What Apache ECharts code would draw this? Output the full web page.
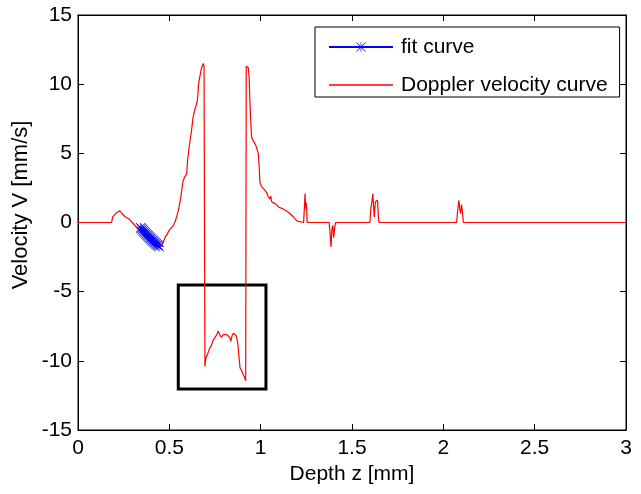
<!DOCTYPE html>
<html>
<head>
<meta charset="utf-8">
<script src="https://cdn.jsdelivr.net/npm/echarts@6/dist/echarts.min.js"></script>
<style>
html,body{margin:0;padding:0;background:#fff;}
#chart{width:641px;height:494px;}
</style>
</head>
<body>
<div id="chart"></div>
<script>
// ---- data ----
var xTicks = [0, 0.5, 1, 1.5, 2, 2.5, 3];
var yTicks = [-15, -10, -5, 0, 5, 10, 15];

var dopplerZ = [0,0.184,0.19,0.2,0.21,0.22,0.23,0.24,0.25,0.26,0.27,0.28,0.29,0.3,0.31,0.32,0.33,0.34,0.35,0.36,0.37,0.38,0.39,0.40,0.41,0.42,0.43,0.44,0.45,0.46,0.47,0.48,0.49,0.50,0.51,0.52,0.53,0.54,0.55,0.56,0.57,0.575,0.585,0.595,0.60,0.61,0.62,0.63,0.64,0.65,0.655,0.66,0.665,0.67,0.675,0.68,0.686,0.69,
0.695,0.70,0.71,0.72,0.73,0.74,0.75,0.76,0.768,0.775,0.786,0.795,0.805,0.815,0.823,0.83,0.836,0.843,0.85,0.858,0.865,0.872,0.877,0.882,0.887,0.895,0.905,0.912,0.918,
0.921,0.932,0.937,0.94,0.945,0.95,0.96,0.969,0.978,0.987,0.992,0.996,1.005,1.015,1.025,1.035,1.04,1.045,1.05,1.055,1.06,1.07,1.075,1.08,1.087,1.095,1.1,1.11,1.12,1.13,1.14,1.15,1.16,1.17,1.18,1.19,1.2,1.205,
1.235,1.24,1.243,1.247,1.25,1.255,1.375,1.38,1.385,1.39,1.395,1.40,1.405,1.41,
1.598,1.603,1.61,1.614,1.618,1.622,1.628,1.64,1.645,1.65,
2.073,2.078,2.085,2.09,2.095,2.1,2.105,2.11,3];
var dopplerV = [0,0,0.4,0.5,0.7,0.6,0.85,0.65,0.6,0.4,0.45,0.25,0.1,-0.05,-0.2,-0.3,-0.45,-0.6,-0.7,-0.9,-1.0,-1.1,-1.2,-1.35,-1.4,-1.55,-1.6,-1.75,-1.85,-1.6,-1.3,-1.0,-0.8,-0.55,-0.45,-0.25,0.0,0.4,0.9,1.6,2.5,3.0,3.3,3.5,4.5,5.6,6.5,7.6,8.2,8.6,9.0,10.0,10.4,10.5,11.1,11.3,11.5,11.3,
-10.4,-9.8,-9.5,-9.1,-8.9,-8.5,-8.3,-8.1,-7.85,-8.1,-8.3,-8.1,-8.0,-8.1,-8.05,-8.3,-8.6,-8.2,-8.0,-8.1,-8.15,-8.5,-9.0,-9.8,-10.5,-10.7,-11.0,-11.2,-11.45,
11.3,11.2,10.5,9.1,7.5,6.2,5.9,5.7,5.4,5.0,4.0,2.9,2.6,2.45,2.3,2.1,1.9,2.0,1.7,1.9,1.5,1.6,1.4,1.5,1.3,1.25,1.1,1.2,1.0,1.05,0.85,0.8,0.65,0.55,0.4,0.25,0.1,0,
0,1.2,2.1,1.0,1.4,0,0,-0.8,-1.76,-0.5,-0.2,-1.1,-0.4,0,
0,1.0,1.6,2.1,1.2,0.4,1.5,1.6,0.2,0,
0,0.8,1.6,1.0,0.65,1.3,1.2,0,0];

var fitZ = [0.343,0.348,0.353,0.358,0.363,0.368,0.373,0.378,0.383,0.388,0.393,0.398,0.403,0.408,0.413,0.418,0.423,0.428,0.433,0.438,0.444];
var fitV = [-0.38,-0.46,-0.53,-0.61,-0.68,-0.76,-0.83,-0.90,-0.96,-1.03,-1.10,-1.16,-1.23,-1.30,-1.36,-1.42,-1.49,-1.55,-1.61,-1.67,-1.73];

// highlighted rectangle (data coordinates)
var boxZ = [0.549, 1.029];
var boxV = [-4.52, -12.04];

var seriesNames = ['fit curve', 'Doppler velocity curve'];
var xName = 'Depth z [mm]';
var yName = 'Velocity V [mm/s]';

// ---- build ----
function zip(a, b) { var r = []; for (var i = 0; i < a.length; i++) r.push([a[i], b[i]]); return r; }
var FONT = 'Liberation Sans, Arial, sans-serif';
var star = 'path://M9.3,0h1.4v20h-1.4z M0,9.3h20v1.4h-20z M1,0l19,19l-1,1l-19,-19z M19,0l1,1l-19,19l-1,-1z';
var lineIcon = 'path://M0,0h0.01v0.01h-0.01z M0,5.3h64v1.4h-64z M63.99,11.99h0.01v0.01h-0.01z';

var chart = echarts.init(document.getElementById('chart'));
var axisCommon = {
  min: 0, max: 3, interval: 0.5,
  axisLine: { show: true, onZero: false, lineStyle: { color: '#000', width: 1 } },
  axisTick: { show: true, inside: true, length: 6, lineStyle: { color: '#000' } },
  splitLine: { show: false }
};
var yCommon = {
  min: yTicks[0], max: yTicks[yTicks.length - 1], interval: 5,
  axisLine: { show: true, onZero: false, lineStyle: { color: '#000', width: 1 } },
  axisTick: { show: true, inside: true, length: 6, lineStyle: { color: '#000' } },
  splitLine: { show: false }
};
chart.setOption({
  backgroundColor: '#fff',
  animation: false,
  grid: { left: 78, right: 15, top: 15, bottom: 64, show: true, borderColor: '#000', borderWidth: 1, backgroundColor: '#fff' },
  legend: {
    data: [{ name: seriesNames[0] }, { name: seriesNames[1], icon: lineIcon }],
    left: 315, top: 27,
    orient: 'vertical',
    borderColor: '#000', borderWidth: 1,
    padding: [9, 12, 1, 13],
    itemWidth: 64, itemHeight: 12, itemGap: 16,
    textStyle: { fontFamily: FONT, fontSize: 21, color: '#000', lineHeight: 22, padding: [0, 0, 0, 3] },
    backgroundColor: '#fff'
  },
  xAxis: [
    Object.assign({}, axisCommon, {
      type: 'value', position: 'bottom',
      name: xName, nameLocation: 'middle', nameGap: 30,
      nameTextStyle: { fontFamily: FONT, fontSize: 21, color: '#000' },
      axisLabel: { show: true, margin: 8, fontFamily: FONT, fontSize: 21, color: '#000' }
    }),
    Object.assign({}, axisCommon, { type: 'value', position: 'top', axisLabel: { show: false } })
  ],
  yAxis: [
    Object.assign({}, yCommon, {
      type: 'value', position: 'left',
      axisLabel: { show: true, margin: 6, fontFamily: FONT, fontSize: 21, color: '#000' }
    }),
    Object.assign({}, yCommon, { type: 'value', position: 'right', axisLabel: { show: false } })
  ],
  graphic: [{
    type: 'text', x: 21, y: 205, rotation: Math.PI / 2,
    style: { text: yName, x: 0, y: 0, align: 'center', verticalAlign: 'middle',
      fontFamily: FONT, fontSize: 22, fill: '#000' }
  }],
  series: [
    {
      name: seriesNames[0], type: 'line', xAxisIndex: 0, yAxisIndex: 0,
      data: zip(fitZ, fitV),
      symbol: star, symbolSize: 10, showSymbol: true,
      lineStyle: { color: '#0000ff', width: 1 },
      itemStyle: { color: '#0000ff' },
      z: 3
    },
    {
      name: seriesNames[1], type: 'line', xAxisIndex: 0, yAxisIndex: 0,
      data: zip(dopplerZ, dopplerV),
      symbol: 'none', showSymbol: false,
      lineStyle: { color: '#ff0000', width: 1.2 },
      itemStyle: { color: '#ff0000' },
      z: 2,
      markArea: {
        silent: true,
        itemStyle: { color: 'rgba(0,0,0,0)', borderColor: '#000', borderWidth: 3 },
        data: [[{ coord: [boxZ[0], boxV[0]] }, { coord: [boxZ[1], boxV[1]] }]]
      }
    }
  ]
});
</script>
</body>
</html>
